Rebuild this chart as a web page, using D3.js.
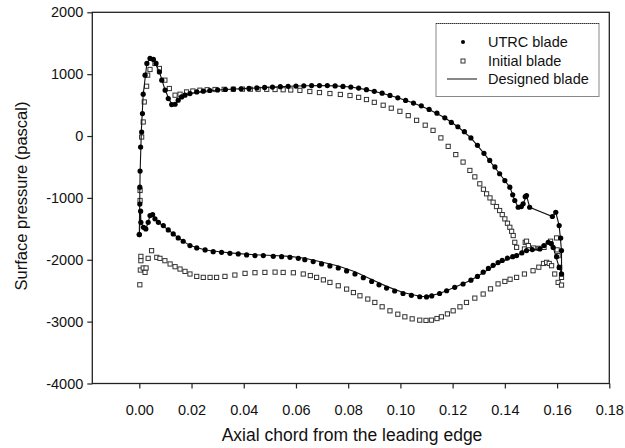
<!DOCTYPE html>
<html><head><meta charset="utf-8">
<script src="https://cdn.jsdelivr.net/npm/d3@7"></script>
<style>body{margin:0;background:#fff}svg{display:block}text{font-family:"Liberation Sans",Arial,sans-serif;fill:#111}</style>
</head><body>
<svg id="c" width="625" height="448"></svg>
<script>
const xTicks=[0,0.02,0.04,0.06,0.08,0.10,0.12,0.14,0.16,0.18];
const yTicks=[-4000,-3000,-2000,-1000,0,1000,2000];
const legendLabels=["UTRC blade","Initial blade","Designed blade"];
const xTitle="Axial chord from the leading edge";
const yTitle="Surface pressure (pascal)";

const utrcUpper=[[0.0000,-1593],[0.0002,-1100],[0.0002,-826],[0.0003,-567],[0.0005,-178],[0.0009,65],[0.0012,363],[0.0015,676],[0.0022,984],[0.0029,1173],[0.0041,1254],[0.0054,1238],[0.0064,1173],[0.0077,1037],[0.0086,903],[0.0099,741],[0.0111,606],[0.0124,509],[0.0137,514],[0.0149,579],[0.0162,632],[0.0175,660],[0.0194,687],[0.0220,713],[0.0245,725],[0.0270,736],[0.0300,745],[0.0330,752],[0.0360,758],[0.0390,764],[0.0420,770],[0.0450,778],[0.0480,785],[0.0510,792],[0.0540,798],[0.0570,803],[0.0600,808],[0.0630,812],[0.0660,815],[0.0690,816],[0.0720,816],[0.0750,810],[0.0780,802],[0.0810,792],[0.0840,775],[0.0870,750],[0.0900,722],[0.0930,692],[0.0960,657],[0.0990,618],[0.1020,575],[0.1050,533],[0.1080,488],[0.1110,430],[0.1140,370],[0.1170,295],[0.1195,220],[0.1220,150],[0.1245,70],[0.1270,-30],[0.1295,-150],[0.1320,-280],[0.1342,-394],[0.1362,-500],[0.1380,-610],[0.1400,-720],[0.1419,-826],[0.1430,-950],[0.1438,-1042],[0.1451,-1151],[0.1463,-1140],[0.1470,-1096],[0.1478,-980],[0.1483,-961],[0.1495,-1151],[0.1582,-1301],[0.1595,-1232],[0.1608,-1447],[0.1614,-1650],[0.1617,-1852],[0.1617,-2230]];
const utrcLower=[[0.0000,-1593],[0.0005,-1215],[0.0006,-1394],[0.0016,-1475],[0.0025,-1501],[0.0034,-1394],[0.0041,-1285],[0.0051,-1269],[0.0060,-1339],[0.0073,-1394],[0.0092,-1447],[0.0111,-1517],[0.0130,-1582],[0.0149,-1647],[0.0168,-1701],[0.0194,-1771],[0.0220,-1809],[0.0252,-1841],[0.0283,-1869],[0.0315,-1880],[0.0347,-1896],[0.0379,-1906],[0.0411,-1922],[0.0443,-1933],[0.0475,-1933],[0.0513,-1945],[0.0545,-1950],[0.0577,-1961],[0.0609,-1977],[0.0634,-1998],[0.0666,-2030],[0.0698,-2068],[0.0730,-2100],[0.0762,-2133],[0.0794,-2180],[0.0826,-2230],[0.0858,-2290],[0.0890,-2350],[0.0918,-2405],[0.0947,-2457],[0.0978,-2505],[0.1010,-2545],[0.1042,-2575],[0.1074,-2598],[0.1100,-2600],[0.1120,-2585],[0.1150,-2545],[0.1177,-2501],[0.1208,-2445],[0.1240,-2392],[0.1270,-2330],[0.1295,-2270],[0.1317,-2200],[0.1337,-2140],[0.1355,-2090],[0.1374,-2045],[0.1390,-2010],[0.1410,-1975],[0.1430,-1950],[0.1445,-1933],[0.1465,-1890],[0.1483,-1852],[0.1505,-1835],[0.1534,-1825],[0.1550,-1770],[0.1566,-1718],[0.1578,-1740],[0.1585,-1800],[0.1598,-1950],[0.1608,-2123],[0.1617,-2230]];
const initUpper=[[0.0003,-1042],[0.0003,-880],[0.0009,-16],[0.0015,227],[0.0019,551],[0.0028,805],[0.0032,984],[0.0041,1076],[0.0060,1173],[0.0077,1092],[0.0098,903],[0.0115,768],[0.0137,660],[0.0156,676],[0.0181,713],[0.0205,728],[0.0232,741],[0.0260,748],[0.0290,752],[0.0325,755],[0.0360,757],[0.0395,758],[0.0425,757],[0.0455,756],[0.0488,755],[0.0520,752],[0.0551,748],[0.0580,744],[0.0615,738],[0.0653,720],[0.0690,703],[0.0730,687],[0.0770,672],[0.0807,655],[0.0840,625],[0.0870,590],[0.0900,545],[0.0934,498],[0.0965,450],[0.0998,400],[0.1030,330],[0.1062,254],[0.1095,175],[0.1125,92],[0.1155,-30],[0.1183,-167],[0.1212,-300],[0.1240,-421],[0.1266,-556],[0.1285,-660],[0.1304,-772],[0.1318,-860],[0.1330,-934],[0.1343,-1000],[0.1355,-1070],[0.1368,-1140],[0.1380,-1204],[0.1390,-1270],[0.1400,-1339],[0.1410,-1410],[0.1419,-1475],[0.1426,-1540],[0.1432,-1609],[0.1438,-1718],[0.1445,-1799],[0.1475,-1825],[0.1478,-1718],[0.1483,-1700],[0.1490,-1771],[0.1510,-1810],[0.1530,-1815],[0.1550,-1800],[0.1575,-1700],[0.1598,-1647],[0.1600,-1840],[0.1604,-1933],[0.1610,-2123],[0.1617,-2285]];
const initLower=[[0.0002,-2404],[0.0004,-2166],[0.0006,-1945],[0.0006,-2015],[0.0015,-2133],[0.0022,-2204],[0.0026,-2133],[0.0034,-1977],[0.0047,-1853],[0.0067,-1961],[0.0079,-1977],[0.0098,-2015],[0.0118,-2068],[0.0137,-2112],[0.0156,-2150],[0.0175,-2188],[0.0194,-2230],[0.0220,-2269],[0.0245,-2285],[0.0271,-2285],[0.0296,-2285],[0.0328,-2269],[0.0366,-2247],[0.0405,-2220],[0.0443,-2209],[0.0481,-2204],[0.0520,-2200],[0.0551,-2205],[0.0590,-2210],[0.0628,-2230],[0.0655,-2255],[0.0679,-2285],[0.0705,-2325],[0.0730,-2366],[0.0762,-2420],[0.0794,-2474],[0.0820,-2530],[0.0845,-2582],[0.0875,-2635],[0.0902,-2690],[0.0930,-2760],[0.0960,-2825],[0.0990,-2880],[0.1017,-2922],[0.1045,-2955],[0.1074,-2976],[0.1098,-2980],[0.1119,-2976],[0.1140,-2950],[0.1157,-2922],[0.1180,-2875],[0.1202,-2825],[0.1228,-2760],[0.1253,-2690],[0.1285,-2620],[0.1317,-2554],[0.1345,-2470],[0.1374,-2390],[0.1400,-2350],[0.1420,-2315],[0.1445,-2285],[0.1475,-2230],[0.1508,-2177],[0.1530,-2120],[0.1548,-2060],[0.1560,-2042],[0.1570,-2060],[0.1579,-2096],[0.1591,-2230],[0.1604,-2366],[0.1617,-2409]];
const designUpper=[[0.0000,-1593],[0.0003,-600],[0.0008,100],[0.0015,676],[0.0029,1173],[0.0041,1250],[0.0054,1235],[0.0077,1037],[0.0099,741],[0.0124,509],[0.0137,514],[0.0162,632],[0.0194,687],[0.0245,725],[0.0330,752],[0.0420,770],[0.0510,792],[0.0600,808],[0.0690,816],[0.0750,810],[0.0810,792],[0.0870,750],[0.0930,692],[0.0990,618],[0.1050,533],[0.1110,430],[0.1170,295],[0.1220,150],[0.1270,-30],[0.1320,-280],[0.1380,-610],[0.1419,-826],[0.1438,-1042],[0.1451,-1151],[0.1470,-1096],[0.1483,-961],[0.1495,-1151],[0.1582,-1301],[0.1595,-1232],[0.1608,-1447],[0.1617,-1852],[0.1617,-2230]];
const designLower=[[0.0000,-1593],[0.0005,-1215],[0.0006,-1394],[0.0016,-1475],[0.0025,-1501],[0.0034,-1394],[0.0041,-1285],[0.0051,-1269],[0.0073,-1394],[0.0111,-1517],[0.0149,-1647],[0.0194,-1771],[0.0252,-1841],[0.0315,-1875],[0.0379,-1900],[0.0443,-1920],[0.0513,-1930],[0.0577,-1945],[0.0634,-1975],[0.0698,-2035],[0.0762,-2100],[0.0826,-2195],[0.0890,-2320],[0.0947,-2430],[0.1010,-2530],[0.1074,-2590],[0.1100,-2595],[0.1150,-2545],[0.1208,-2445],[0.1270,-2330],[0.1317,-2210],[0.1374,-2055],[0.1430,-1955],[0.1483,-1855],[0.1534,-1825],[0.1566,-1718],[0.1585,-1800],[0.1608,-2123],[0.1617,-2230]];

const svg=d3.select("#c");
const L=92.3,R=609.3,T=12.3,B=383.5;
const x=d3.scaleLinear().domain([-0.018,0.18]).range([L,R]);
const y=d3.scaleLinear().domain([-4000,2000]).range([B,T]);

svg.append("rect").attr("x",L).attr("y",T).attr("width",R-L).attr("height",B-T)
  .attr("fill","none").attr("stroke","#222").attr("stroke-width",1.3);

const xa=svg.append("g").attr("transform",`translate(0,${B})`)
  .call(d3.axisBottom(x).tickValues(xTicks).tickFormat(d3.format(".2f")).tickSize(5).tickPadding(16));
const ya=svg.append("g").attr("transform",`translate(${L},0)`)
  .call(d3.axisLeft(y).tickValues(yTicks).tickFormat(d=>String(d)).tickSize(5).tickPadding(4));
[xa,ya].forEach(a=>{a.select(".domain").remove();a.selectAll("line").attr("stroke","#222").attr("stroke-width",1.2);
  a.selectAll("text").style("font-family","Liberation Sans, Arial, sans-serif").style("font-size","14.5px").attr("fill","#111");});

svg.append("text").attr("x",352).attr("y",441).attr("text-anchor","middle").style("font-size","17.5px").text(xTitle);
svg.append("text").attr("transform","translate(27,196) rotate(-90)").attr("text-anchor","middle").style("font-size","16.5px").text(yTitle);

const sq=4.2;
svg.append("g").selectAll("rect").data(initUpper.concat(initLower)).join("rect")
  .attr("x",d=>x(d[0])-sq/2).attr("y",d=>y(d[1])-sq/2).attr("width",sq).attr("height",sq)
  .attr("fill","#fff").attr("stroke","#333").attr("stroke-width",1);

const line=d3.line().x(d=>x(d[0])).y(d=>y(d[1]));
[designUpper,designLower].forEach(s=>svg.append("path").attr("d",line(s)).attr("fill","none").attr("stroke","#111").attr("stroke-width",1.1));

svg.append("g").selectAll("circle").data(utrcUpper.concat(utrcLower)).join("circle")
  .attr("cx",d=>x(d[0])).attr("cy",d=>y(d[1])).attr("r",2.6).attr("fill","#000");

const lg=svg.append("g");
lg.append("rect").attr("x",436).attr("y",23.5).attr("width",163).attr("height",73).attr("fill","#fff").attr("stroke","#888").attr("stroke-width",1);
lg.append("line").attr("x1",436).attr("x2",599).attr("y1",23.5).attr("y2",23.5).attr("stroke","#333").attr("stroke-dasharray","1,1");
const ly=[42,61,79];
lg.append("circle").attr("cx",463).attr("cy",ly[0]).attr("r",2).attr("fill","#000");
lg.append("rect").attr("x",461).attr("y",ly[1]-2).attr("width",4).attr("height",4).attr("fill","#fff").attr("stroke","#333").attr("stroke-width",1);
lg.append("line").attr("x1",447).attr("x2",477).attr("y1",ly[2]).attr("y2",ly[2]).attr("stroke","#111").attr("stroke-width",1);
legendLabels.forEach((t,i)=>lg.append("text").attr("x",488).attr("y",ly[i]+5).style("font-size","14.5px").text(t));
</script>
</body></html>
